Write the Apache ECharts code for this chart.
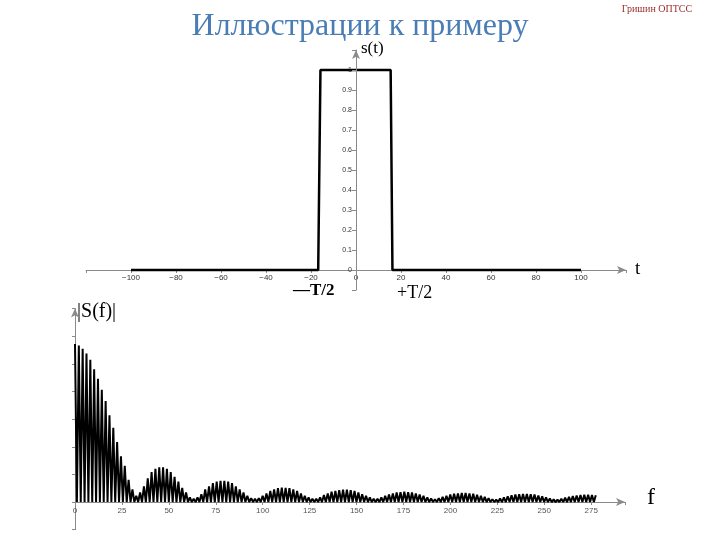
<!DOCTYPE html>
<html><head><meta charset="utf-8">
<script src="https://cdn.jsdelivr.net/npm/echarts@6/dist/echarts.min.js"></script>
<style>html,body{margin:0;padding:0;background:#fff}#c{width:720px;height:540px}</style>
</head><body><div id="c"></div>
<script>
// ---- Top chart: rectangular pulse s(t)
const tValues = [-100, -16.8, -15.8, 15.4, 16.2, 100];
const sValues = [0, 0, 1, 1, 0, 0];
const tTicks = [-100, -80, -60, -40, -20, 0, 20, 40, 60, 80, 100];

// ---- Bottom chart: |S(f)| (peaks every fStep, troughs in between)
const fStep = 2.04;
const peaks = [
  1.00,0.99,0.97,0.94,0.90,0.84,0.78,0.71,0.64,0.55,0.47,0.38,0.29,0.23,0.14,0.08,
  0.04,
  0.06,0.10,0.15,0.19,0.21,0.22,0.22,0.21,0.19,0.16,0.13,0.09,0.06,0.03,0.02,
  0.03,0.05,0.08,0.10,0.12,0.13,0.135,0.135,0.13,0.12,0.10,0.08,0.06,0.04,0.025,0.02,
  0.025,0.04,0.055,0.07,0.08,0.088,0.092,0.09,0.088,0.08,0.07,0.055,0.04,0.03,0.02,
  0.02,0.03,0.045,0.055,0.065,0.07,0.075,0.078,0.078,0.075,0.07,0.06,0.05,0.04,0.03,0.02,
  0.02,0.03,0.04,0.048,0.055,0.06,0.063,0.065,0.063,0.06,0.055,0.048,0.04,0.03,0.022,
  0.018,0.025,0.033,0.04,0.047,0.052,0.055,0.057,0.057,0.055,0.052,0.046,0.04,0.033,0.025,0.018,
  0.016,0.022,0.03,0.037,0.043,0.047,0.05,0.051,0.051,0.05,0.047,0.042,0.036,0.03,0.023,0.017,
  0.016,0.02,0.027,0.033,0.038,0.042,0.045,0.046,0.046,0.045,0.043
];
const troughs = [
  0,0,0,0,0,0,0,0,0,0,0,0,0,0,0,0,0,
  0,0,0,0,0,0,0,0,0,0,0,0,0,0,0,0,0,
  0,0,0,0,0,0,0,0,0,0,0,0,0,0,0,0,0,
  0,0,0,0,0,0,0,0,0,0,0,0,0,0,0,0,0,
  0,0,0,0,0,0,0,0,0,0,0,0,0,0,0,0,0,
  0,0,0,0,0,0,0,0,0,0,0,0,0,0,0,0,0,
  0,0,0,0,0,0,0,0,0,0,0,0,0,0,0,0,0,
  0,0,0,0,0,0,0,0,0,0,0,0,0,0,0,0,0
];
const fTicks = [0, 25, 50, 75, 100, 125, 150, 175, 200, 225, 250, 275];

const topData = tValues.map((t, i) => [t, sValues[i]]);
const botData = [];
peaks.forEach((p, i) => {
  botData.push([i * fStep, p]);
  if (i < troughs.length && i < peaks.length - 1) botData.push([(i + 0.5) * fStep, troughs[i]]);
});

const serif = '"Liberation Serif","DejaVu Serif",serif';
const chart = echarts.init(document.getElementById('c'), null, {renderer: 'canvas'});
const axisGray = '#8a8a8a';
chart.setOption({
  animation: false,
  backgroundColor: '#fff',
  grid: [
    {left: 86, width: 540, top: 50, height: 240},
    {left: 75, width: 550, top: 308.5, height: 221.2}
  ],
  xAxis: [
    {gridIndex: 0, type: 'value', min: -120, max: 120, interval: 20, position: 'bottom', offset: -20,
     axisLine: {onZero: false, lineStyle: {color: axisGray, width: 1}, symbol: ['none', 'arrow'], symbolSize: [6, 9]},
     axisTick: {show: true, length: 3, lineStyle: {color: axisGray}},
     splitLine: {show: false},
     axisLabel: {fontSize: 8, color: '#333', fontFamily: 'Liberation Sans', margin: 4,
       formatter: v => (tTicks.indexOf(v) >= 0 ? String(v).replace('-', '\u2212') : '')}},
    {gridIndex: 1, type: 'value', min: 0, max: 293, interval: 25, position: 'bottom', offset: -27.65,
     axisLine: {onZero: false, lineStyle: {color: axisGray, width: 1}, symbol: ['none', 'arrow'], symbolSize: [6, 9]},
     axisTick: {show: true, length: 3, lineStyle: {color: axisGray}},
     splitLine: {show: false},
     axisLabel: {fontSize: 8, color: '#555', fontFamily: 'Liberation Sans', margin: 5,
       formatter: v => (fTicks.indexOf(v) >= 0 ? String(v) : '')}}
  ],
  yAxis: [
    {gridIndex: 0, type: 'value', min: -0.1, max: 1.1, interval: 0.1, position: 'left', offset: -270, z: 10,
     axisLine: {onZero: false, lineStyle: {color: axisGray, width: 1}, symbol: ['none', 'arrow'], symbolSize: [6, 9]},
     axisTick: {show: true, length: 4, lineStyle: {color: axisGray}},
     splitLine: {show: false},
     axisLabel: {fontSize: 7, color: '#333', fontFamily: 'Liberation Sans', margin: 4,
       formatter: v => { const r = Math.round(v * 10) / 10; return (r < -0.01 || r > 1.01) ? '' : String(r); }}},
    {gridIndex: 1, type: 'value', min: -0.175, max: 1.225, interval: 0.175, position: 'left', offset: 0,
     axisLine: {onZero: false, lineStyle: {color: axisGray, width: 1}, symbol: ['none', 'arrow'], symbolSize: [6, 9]},
     axisTick: {show: true, length: 3, lineStyle: {color: axisGray}},
     splitLine: {show: false},
     axisLabel: {show: false}}
  ],
  series: [
    {type: 'line', xAxisIndex: 0, yAxisIndex: 0, data: topData, showSymbol: false,
     lineStyle: {color: '#000', width: 2.5}, z: 5},
    {type: 'line', xAxisIndex: 1, yAxisIndex: 1, data: botData, showSymbol: false, sampling: null,
     lineStyle: {color: '#000', width: 2}, z: 5}
  ],
  graphic: [
    {type: 'text', x: 360, y: 27, style: {text: 'Иллюстрации к примеру', font: '32px ' + serif, fill: '#4a7db5', textAlign: 'center', textVerticalAlign: 'middle'}},
    {type: 'text', x: 657, y: 9, style: {text: 'Гришин ОПТСС', font: '10px ' + serif, fill: '#9b2b2b', textAlign: 'center', textVerticalAlign: 'middle'}},
    {type: 'text', x: 361, y: 49, style: {text: 's(t)', font: '17px ' + serif, fill: '#000', textAlign: 'left', textVerticalAlign: 'middle'}},
    {type: 'text', x: 635, y: 269, style: {text: 't', font: '19px ' + serif, fill: '#000', textAlign: 'left', textVerticalAlign: 'middle'}},
    {type: 'text', x: 293, y: 291, style: {text: '\u2014T/2', font: 'bold 17px ' + serif, fill: '#000', textAlign: 'left', textVerticalAlign: 'middle'}},
    {type: 'text', x: 397, y: 293, style: {text: '+T/2', font: '18px ' + serif, fill: '#000', textAlign: 'left', textVerticalAlign: 'middle'}},
    {type: 'text', x: 77, y: 312, style: {text: '|S(f)|', font: '20px ' + serif, fill: '#000', textAlign: 'left', textVerticalAlign: 'middle'}},
    {type: 'text', x: 647, y: 498, style: {text: 'f', font: '24px ' + serif, fill: '#000', textAlign: 'left', textVerticalAlign: 'middle'}}
  ]
});
</script></body></html>
